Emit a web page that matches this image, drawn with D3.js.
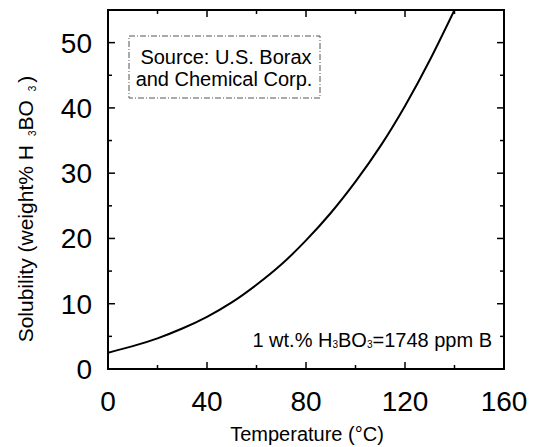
<!DOCTYPE html>
<html>
<head>
<meta charset="utf-8">
<script src="https://cdn.jsdelivr.net/npm/d3@7"></script>
<style>
body { margin: 0; background: #fff; }
svg { font-family: "Liberation Sans", Arial, sans-serif; }
</style>
</head>
<body>
<svg width="540" height="447"></svg>
<script>
// solubility of boric acid vs temperature
var temps = [0, 10, 20, 30, 40, 50, 60, 70, 80, 90, 100, 110, 120, 130, 140];
var solubility = [2.5, 3.5, 4.7, 6.2, 8.0, 10.2, 12.9, 16.0, 19.7, 23.9, 28.7, 34.1, 40.3, 47.3, 55.0];
var xTicks = [0, 40, 80, 120, 160];
var yTicks = [0, 10, 20, 30, 40, 50];

var svg = d3.select("svg");
// plot box edges (note: "top" is taken by window.top)
var pLeft = 108, pRight = 504, pTop = 10, pBottom = 369;

var x = d3.scaleLinear().domain([0, 160]).range([pLeft, pRight]);
var y = d3.scaleLinear().domain([0, 55]).range([pBottom, pTop]);

// clip for the curve
svg.append("clipPath").attr("id", "clip")
	.append("rect")
	.attr("x", pLeft).attr("y", pTop)
	.attr("width", pRight - pLeft).attr("height", pBottom - pTop);

// ticks, pointing inward on all four sides
var xMinor = d3.range(0, 161, 20);
var yMinor = d3.range(0, 56, 5);

var tickG = svg.append("g").attr("stroke", "#000").attr("stroke-width", 1.5);
xMinor.forEach(function(v) {
	var len = (v % 40 === 0) ? 7 : 4;
	tickG.append("line").attr("x1", x(v)).attr("x2", x(v)).attr("y1", pBottom).attr("y2", pBottom - len);
	tickG.append("line").attr("x1", x(v)).attr("x2", x(v)).attr("y1", pTop).attr("y2", pTop + len);
});
yMinor.forEach(function(v) {
	var len = (v % 10 === 0) ? 7 : 4;
	tickG.append("line").attr("x1", pLeft).attr("x2", pLeft + len).attr("y1", y(v)).attr("y2", y(v));
	tickG.append("line").attr("x1", pRight).attr("x2", pRight - len).attr("y1", y(v)).attr("y2", y(v));
});

// frame
svg.append("rect")
	.attr("x", pLeft).attr("y", pTop)
	.attr("width", pRight - pLeft).attr("height", pBottom - pTop)
	.attr("fill", "none").attr("stroke", "#000").attr("stroke-width", 2);

// tick labels
svg.append("g").selectAll("text")
	.data(xTicks).enter().append("text")
	.attr("x", function(d) { return x(d); })
	.attr("y", 411)
	.attr("text-anchor", "middle")
	.attr("font-size", 28)
	.text(function(d) { return d; });

svg.append("g").selectAll("text")
	.data(yTicks).enter().append("text")
	.attr("x", 92)
	.attr("y", function(d) { return y(d) + 10; })
	.attr("text-anchor", "end")
	.attr("font-size", 28)
	.text(function(d) { return d; });

// axis titles
svg.append("text")
	.attr("x", 307)
	.attr("y", 441)
	.attr("text-anchor", "middle")
	.attr("font-size", 20)
	.text("Temperature (°C)");

// the scan has wide gaps around the subscripts
var yt = svg.append("text")
	.attr("transform", "translate(33,209) rotate(-90)")
	.attr("text-anchor", "middle")
	.attr("font-size", 21);
yt.append("tspan").text("Solubility (weight% H");
yt.append("tspan").attr("font-size", 10).attr("dx", 9).attr("dy", 3).text("3");
yt.append("tspan").attr("dy", -3).text("BO");
yt.append("tspan").attr("font-size", 10).attr("dx", 9).attr("dy", 3).text("3");
yt.append("tspan").attr("dx", 3).attr("dy", -3).text(")");

// curve
var line = d3.line()
	.x(function(d, i) { return x(temps[i]); })
	.y(function(d) { return y(d); })
	.curve(d3.curveNatural);

svg.append("path")
	.datum(solubility)
	.attr("clip-path", "url(#clip)")
	.attr("fill", "none")
	.attr("stroke", "#000")
	.attr("stroke-width", 2)
	.attr("d", line);

// source box
svg.append("rect")
	.attr("x", 129).attr("y", 36)
	.attr("width", 191).attr("height", 62)
	.attr("fill", "none")
	.attr("stroke", "#555")
	.attr("stroke-width", 1)
	.attr("stroke-dasharray", "6,2,1,2");

svg.append("text")
	.attr("x", 226).attr("y", 64)
	.attr("text-anchor", "middle")
	.attr("font-size", 20)
	.text("Source: U.S. Borax");
svg.append("text")
	.attr("x", 224).attr("y", 86)
	.attr("text-anchor", "middle")
	.attr("font-size", 20)
	.text("and Chemical Corp.");

// conversion note
var note = svg.append("text")
	.attr("x", 492).attr("y", 347)
	.attr("text-anchor", "end")
	.attr("font-size", 20);
note.append("tspan").text("1 wt.% H");
note.append("tspan").attr("font-size", 10).attr("dy", 1).text("3");
note.append("tspan").attr("dy", -1).text("BO");
note.append("tspan").attr("font-size", 10).attr("dy", 1).text("3");
note.append("tspan").attr("dy", -1).text("=1748 ppm B");
</script>
</body>
</html>
